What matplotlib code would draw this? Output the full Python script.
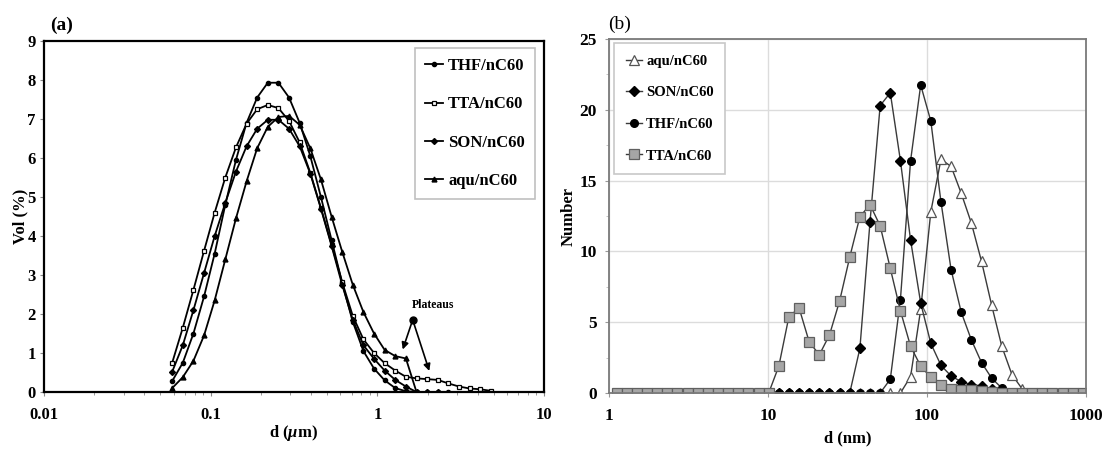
import matplotlib
matplotlib.use("Agg")
import matplotlib.pyplot as plt
from matplotlib.ticker import LogLocator, NullLocator, FixedLocator, MultipleLocator, NullFormatter

plt.rcParams['font.family'] = ['Liberation Serif', 'DejaVu Serif']
plt.rcParams['font.weight'] = 'bold'
plt.rcParams['mathtext.fontset'] = 'custom'
plt.rcParams['mathtext.rm'] = 'Liberation Serif:bold'
plt.rcParams['mathtext.it'] = 'Liberation Serif:italic:bold'

# ---- panel (a): volume distribution, d in um ----
d_um = [0.05877, 0.06806, 0.07882, 0.09128, 0.1057, 0.1224, 0.1418, 0.1642,
        0.1901, 0.2202, 0.2550, 0.2953, 0.3420, 0.3961, 0.4587, 0.5312,
        0.6151, 0.7124, 0.8250, 0.9554, 1.106, 1.281, 1.484, 1.718,
        1.990, 2.305, 2.669, 3.091, 3.580, 4.145, 4.801, 5.560]

vol_thf = [0.28, 0.75, 1.5, 2.45, 3.55, 4.8, 5.95, 6.9, 7.55, 7.93, 7.93, 7.55,
           6.9, 6.05, 5.0, 3.9, 2.8, 1.8, 1.05, 0.6, 0.3, 0.1, 0.02, 0, 0, 0, 0]
vol_tta = [0.75, 1.65, 2.62, 3.62, 4.6, 5.5, 6.27, 6.88, 7.25, 7.36, 7.28, 6.95,
           6.4, 5.62, 4.72, 3.78, 2.82, 1.95, 1.35, 1.0, 0.74, 0.55, 0.39, 0.35,
           0.33, 0.31, 0.22, 0.14, 0.09, 0.07, 0.03]
vol_son = [0.52, 1.2, 2.1, 3.05, 4.0, 4.85, 5.65, 6.3, 6.75, 6.98, 6.98, 6.75,
           6.3, 5.6, 4.7, 3.75, 2.75, 1.85, 1.2, 0.85, 0.55, 0.31, 0.14, 0, 0, 0]
vol_aqu = [0.1, 0.38, 0.8, 1.45, 2.35, 3.4, 4.45, 5.4, 6.25, 6.8, 7.05, 7.08,
           6.85, 6.25, 5.45, 4.5, 3.6, 2.75, 2.05, 1.5, 1.08, 0.92, 0.86, 0.0,
           0, 0]

# ---- panel (b): number distribution, d in nm ----
d_nm = [1.117, 1.294, 1.499, 1.736, 2.010, 2.328, 2.696, 3.122, 3.615, 4.187,
        4.849, 5.615, 6.503, 7.531, 8.721, 10.10, 11.70, 13.54, 15.69, 18.17,
        21.04, 24.36, 28.21, 32.67, 37.84, 43.82, 50.75, 58.77, 68.06, 78.82,
        91.28, 105.7, 122.4, 141.8, 164.2, 190.1, 220.2, 255.0, 295.3, 342.0,
        396.1, 458.7, 531.2, 615.1, 712.4, 825.0, 955.4]

num_aqu = [0] * 29 + [1.15, 5.9, 12.8, 16.5, 16.0, 14.1, 12.0, 9.3, 6.2, 3.3,
                      1.3, 0.3] + [0] * 6
num_son = [0] * 24 + [3.15, 12.1, 20.3, 21.2, 16.4, 10.8, 6.35, 3.5, 1.95, 1.2,
                      0.8, 0.6, 0.5, 0.3, 0.12, 0.03] + [0] * 7
num_thf = [0] * 27 + [0.97, 6.6, 16.4, 21.75, 19.2, 13.5, 8.7, 5.7, 3.75, 2.15,
                      1.05, 0.35, 0.08] + [0] * 7
num_tta = [0] * 16 + [1.9, 5.4, 6.0, 3.6, 2.7, 4.1, 6.5, 9.6, 12.45, 13.3, 11.8,
                      8.8, 5.8, 3.3, 1.9, 1.1, 0.6, 0.3, 0.2, 0.2, 0.12, 0.07,
                      0.03] + [0] * 8

fig = plt.figure(figsize=(11.02, 4.5), dpi=100)

# ================= (a) =================
ax1 = fig.add_axes([44 / 1102, 58 / 450, 500 / 1102, 351 / 450])
ax1.plot(d_um[:len(vol_thf)], vol_thf, '-o', color='black', lw=1.3, ms=3,
         label='THF/nC60')
ax1.plot(d_um[:len(vol_tta)], vol_tta, '-s', color='black', lw=1.3, ms=3.5,
         mfc='white', mec='black', mew=0.9, label='TTA/nC60')
ax1.plot(d_um[:len(vol_son)], vol_son, '-D', color='black', lw=1.3, ms=3,
         label='SON/nC60')
ax1.plot(d_um[:len(vol_aqu)], vol_aqu, '-^', color='black', lw=1.3, ms=3.5,
         label='aqu/nC60')

ax1.set_xscale('log')
ax1.set_xlim(0.01, 10)
ax1.set_ylim(0, 9)
ax1.xaxis.set_major_locator(FixedLocator([0.01, 0.1, 1, 10]))
ax1.set_xticklabels(['0.01', '0.1', '1', '10'])
ax1.xaxis.set_minor_locator(LogLocator(base=10, subs=range(2, 10)))
ax1.xaxis.set_minor_formatter(NullFormatter())
ax1.yaxis.set_major_locator(MultipleLocator(1))
for s in ax1.spines.values():
    s.set_linewidth(1.6)
    s.set_color('black')
ax1.tick_params(axis='both', which='major', labelsize=12, length=3,
                color='#888888')
ax1.tick_params(axis='x', which='major', pad=8)
ax1.tick_params(axis='y', which='major', pad=3)
ax1.tick_params(axis='x', which='minor', length=2.5, color='#888888')

ax1.set_ylabel('Vol (%)', fontsize=12, fontweight='bold')
ax1.set_xlabel(r'd ($\mu$m)', fontsize=12, fontweight='bold')
ax1.yaxis.set_label_coords(-0.032, 0.5)
ax1.xaxis.set_label_coords(0.498, -0.088)

leg1 = ax1.legend(loc='upper right', bbox_to_anchor=(0.982, 0.98), fontsize=12,
                  labelspacing=1.34, handlelength=1.1, handletextpad=0.3,
                  borderpad=0.6, borderaxespad=0, fancybox=False, framealpha=1,
                  edgecolor='#c0c0c0')
leg1.get_frame().set_linewidth(1.2)

# "Plateaus" annotation
ax1.text(2.16, 2.23, 'Plateaus', fontsize=8.5, fontweight='bold',
         ha='center', va='center')
ax1.plot([1.63], [1.85], 'o', color='black', ms=5)
for tip in [(1.42, 1.09), (2.05, 0.54)]:
    ax1.annotate('', xy=tip, xytext=(1.63, 1.85),
                 arrowprops=dict(arrowstyle='-|>', color='black', lw=1.2,
                                 mutation_scale=10, shrinkA=0, shrinkB=0))

fig.text(50 / 1102, 0.944, '(a)', fontsize=14, fontweight='bold',
         ha='left', va='center')

# ================= (b) =================
ax2 = fig.add_axes([609 / 1102, 57 / 450, 477 / 1102, 354 / 450])
line_c = '#3a3a3a'
ax2.plot(d_nm, num_aqu, '-^', color=line_c, lw=1.0, ms=6.5, mfc='white',
         mec='#555555', mew=0.9, label='aqu/nC60')
ax2.plot(d_nm, num_son, '-D', color=line_c, lw=1.0, ms=5, mfc='black',
         mec='black', label='SON/nC60')
ax2.plot(d_nm, num_thf, '-o', color=line_c, lw=1.0, ms=5.5, mfc='black',
         mec='black', label='THF/nC60')
ax2.plot(d_nm, num_tta, '-s', color=line_c, lw=1.0, ms=6.5, mfc='#a6a6a6',
         mec='#606060', mew=0.9, label='TTA/nC60')

ax2.set_xscale('log')
ax2.set_xlim(1, 1000)
ax2.set_ylim(0, 25)
ax2.xaxis.set_major_locator(FixedLocator([1, 10, 100, 1000]))
ax2.set_xticklabels(['1', '10', '100', '1000'])
ax2.xaxis.set_minor_locator(NullLocator())
ax2.yaxis.set_major_locator(MultipleLocator(5))
ax2.yaxis.set_minor_locator(MultipleLocator(2.5))
ax2.grid(True, which='major', color='#dcdcdc', lw=1.0)
ax2.set_axisbelow(True)
for s in ax2.spines.values():
    s.set_linewidth(1.3)
    s.set_color('#7a7a7a')
ax2.tick_params(axis='both', which='major', labelsize=12.5, length=3,
                color='#999999')
ax2.tick_params(axis='y', which='minor', length=2, color='#bbbbbb')
ax2.tick_params(axis='x', which='major', pad=8)
ax2.tick_params(axis='y', which='major', pad=6)

ax2.set_ylabel('Number', fontsize=12, fontweight='bold')
ax2.set_xlabel('d (nm)', fontsize=12, fontweight='bold')
ax2.yaxis.set_label_coords(-0.067, 0.5)
ax2.xaxis.set_label_coords(0.5, -0.105)

leg2 = ax2.legend(loc='upper left', bbox_to_anchor=(0.0105, 0.989),
                  fontsize=10.5, labelspacing=1.26, handlelength=1.1,
                  handletextpad=0.3, borderpad=0.8, borderaxespad=0,
                  fancybox=False, framealpha=1, edgecolor='#c8c8c8')
leg2.get_frame().set_linewidth(1.2)

fig.text(608 / 1102, 0.947, '(b)', fontsize=14, fontweight='normal',
         ha='left', va='center')

fig.savefig('out.png', dpi=100)
